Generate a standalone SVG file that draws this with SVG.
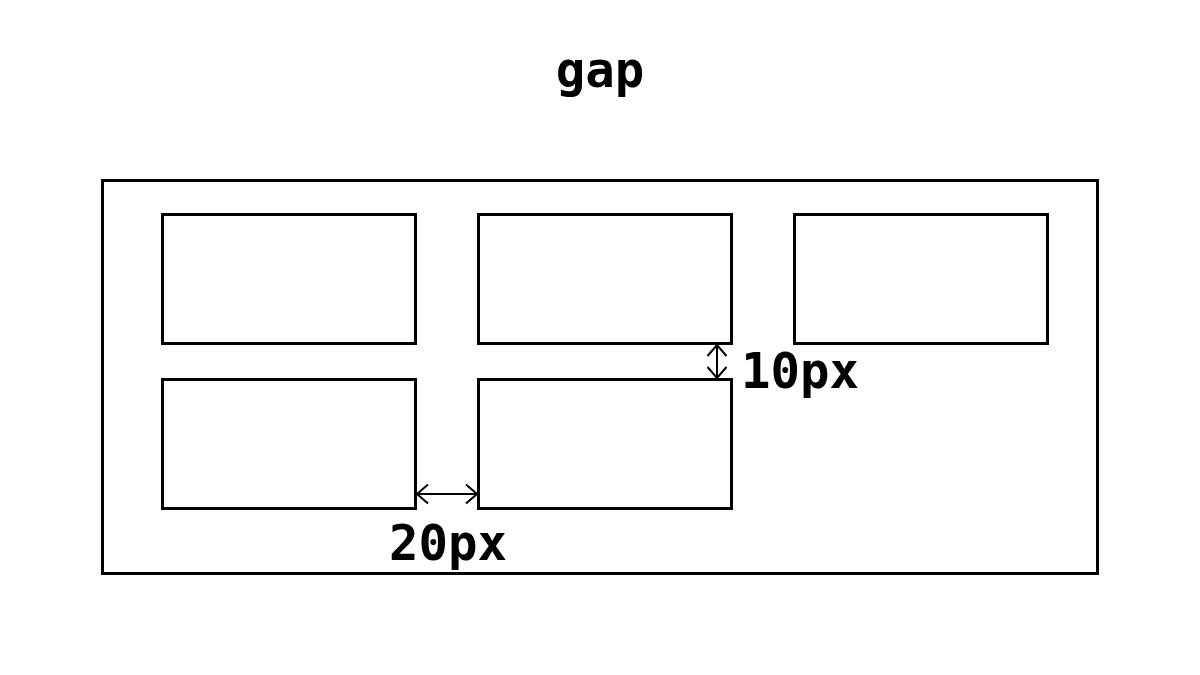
<svg xmlns="http://www.w3.org/2000/svg" width="1200" height="675" viewBox="0 0 1200 675">
<defs>
<style>
.box{fill:none;stroke:#000;stroke-width:3}
.lbl{font-family:"DejaVu Sans Mono",monospace;font-weight:bold;font-size:49px;fill:#000}
.dim{fill:none;stroke:#000;stroke-width:2}
</style>
<marker id="chev" viewBox="0 0 13 22" refX="12" refY="11" markerWidth="13" markerHeight="22" markerUnits="userSpaceOnUse" orient="auto-start-reverse">
<polyline points="1,1.5 12,11 1,20.5" fill="none" stroke="#000" stroke-width="2"/>
</marker>
</defs>
<rect width="1200" height="675" fill="#fff"/>
<text id="title" class="lbl" x="600" y="87" text-anchor="middle">gap</text>
<g id="container"><rect class="box" x="102.5" y="180.5" width="995" height="393"/></g>
<g id="item1"><rect class="box" x="162.5" y="214.5" width="253" height="129"/></g>
<g id="item2"><rect class="box" x="478.5" y="214.5" width="253" height="129"/></g>
<g id="item3"><rect class="box" x="794.5" y="214.5" width="253" height="129"/></g>
<g id="item4"><rect class="box" x="162.5" y="379.5" width="253" height="129"/></g>
<g id="item5"><rect class="box" x="478.5" y="379.5" width="253" height="129"/></g>
<g id="connectors">
<line class="dim" x1="717" y1="345" x2="717" y2="378" marker-start="url(#chev)" marker-end="url(#chev)"/>
<line class="dim" x1="417" y1="494" x2="477" y2="494" marker-start="url(#chev)" marker-end="url(#chev)"/>
</g>
<text class="lbl" x="741" y="388">10px</text>
<text class="lbl" x="389" y="560">20px</text>
</svg>
